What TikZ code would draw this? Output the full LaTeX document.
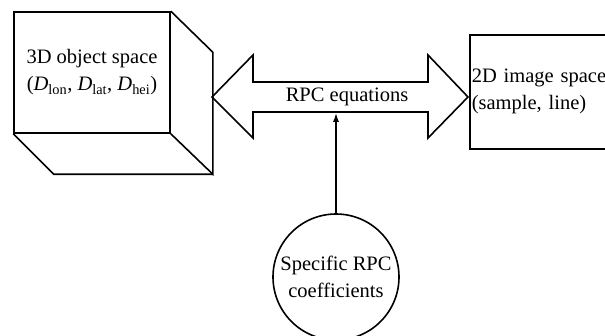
\documentclass[tikz,border=0pt]{standalone}
\usepackage{fontspec}
\setmainfont{Liberation Serif}
\usetikzlibrary{arrows.meta}

\begin{document}
\begin{tikzpicture}[x=1pt,y=-1pt,line width=1.6pt,
        lbl/.style={font=\fontsize{20.5}{27}\selectfont,align=center}]
        \useasboundingbox (0,0) rectangle (605,335);
        % object space (cube)
        \node[draw,minimum width=156pt,minimum height=121pt,lbl] (obj) at (92,72.5)
            {3D object space\\(\textit{D}\textsubscript{lon}, \textit{D}\textsubscript{lat}, \textit{D}\textsubscript{hei})};
        \draw (obj.north east) -- ++(42,41) coordinate (objback) -- ++(0,122) coordinate (objbase) -- (obj.south east);
        \draw (objbase) -- ++(-159,0) -- (obj.south west);
        % image space
        \node[draw,minimum width=150pt,minimum height=114pt,anchor=north west,inner xsep=2pt,
            text width=146pt,font=\fontsize{20.5}{27}\selectfont,align=left] (img) at (469,34)
            {2D image space\\(sample, line)};
        % double arrow
        \draw (212,97) -- (253,55) -- (253,82) -- (428,82) -- (428,55) -- (468,97)
            -- (428,138) -- (428,112) -- (253,112) -- (253,138) -- cycle;
        \node[lbl,minimum height=30pt,inner sep=0pt] (rpc) at (347,97) {RPC equations};
        % coefficients
        \node[draw,circle,minimum size=126pt,inner sep=0pt,lbl] (coef) at (336,277)
            {Specific RPC\\coefficients};
        \draw[-{Latex[length=9pt,width=6pt]}] (coef.north) -- (coef.north |- rpc.south);
    \end{tikzpicture}
\end{document}
